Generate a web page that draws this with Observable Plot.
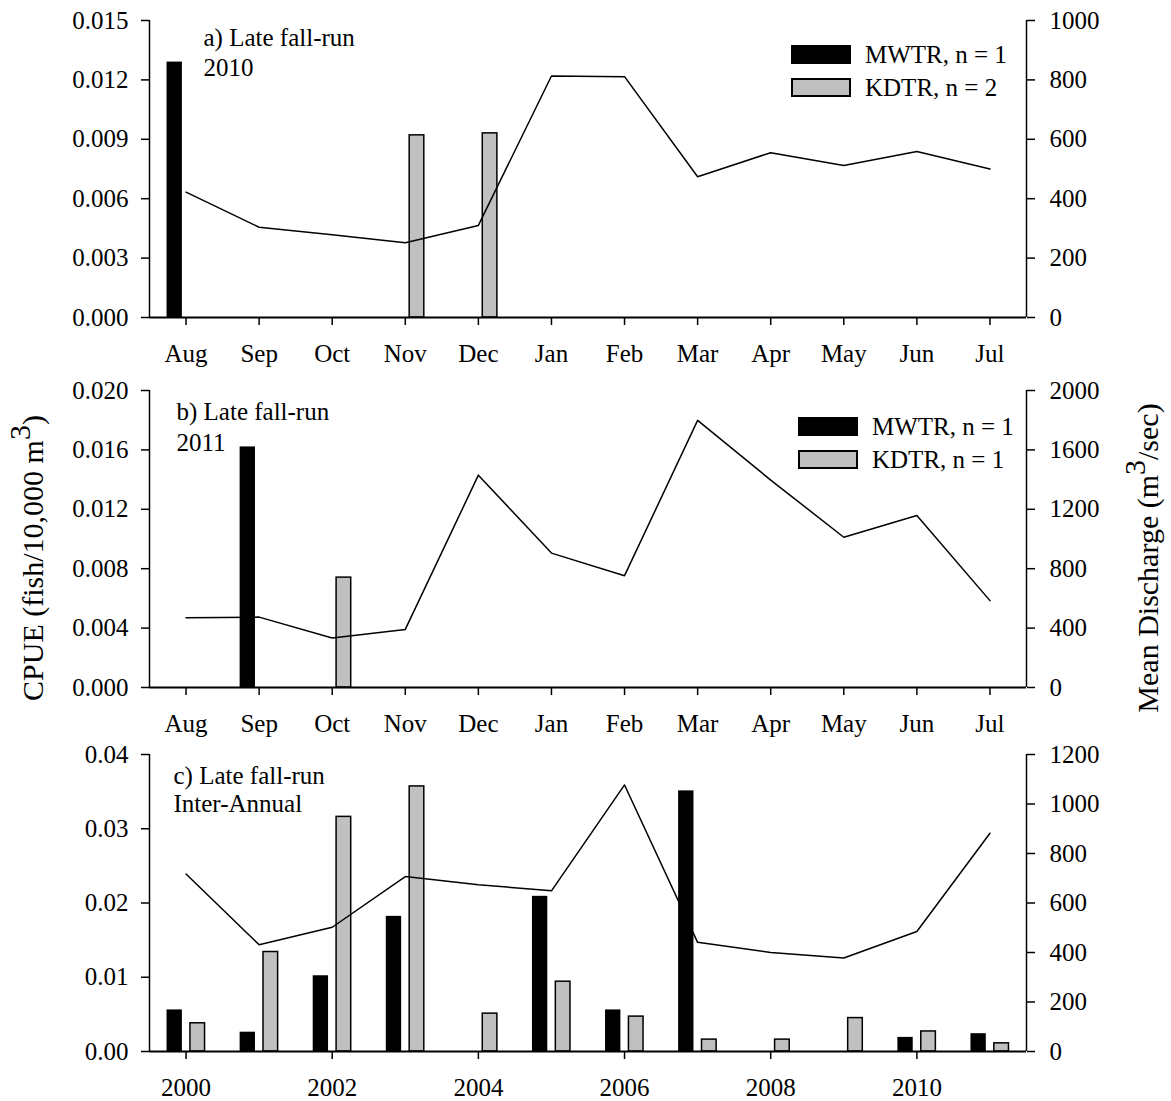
<!DOCTYPE html>
<html>
<head>
<meta charset="utf-8">
<script src="https://cdn.jsdelivr.net/npm/d3@7"></script>
<script src="https://cdn.jsdelivr.net/npm/@observablehq/plot@0.6"></script>
<style>
html, body { margin: 0; padding: 0; background: #fff; }
#chart { position: relative; width: 1171px; height: 1101px; background: #fff; overflow: hidden;
  font-family: "Liberation Serif", "Times New Roman", serif; }
#chart > svg, #chart > div { position: absolute; }
.lg-swatches { font-family: "Liberation Serif", "Times New Roman", serif !important; font-size: 25px !important;
  line-height: 33px !important; color: #000 !important; margin: 0 !important; columns: auto !important; }
.lg-swatch { display: flex !important; align-items: center !important; padding: 0 !important; margin: 0 !important; height: 33px; }
.lg-swatch > svg { margin-right: 15px !important; overflow: visible !important; }
.lg-swatch > svg rect { stroke: #000; stroke-width: 2px; }
.lg-swatch-label { overflow: visible !important; }
</style>
</head>
<body>
<div id="chart"></div>
<script>
// ---------- data ----------
const months = ["Aug","Sep","Oct","Nov","Dec","Jan","Feb","Mar","Apr","May","Jun","Jul"];
const monthIdx = [0,1,2,3,4,5,6,7,8,9,10,11];

// a) Late fall-run 2010
const aMWTR = [0.0129, null, null, null, null, null, null, null, null, null, null, null];
const aKDTR = [null, null, null, 0.0092, 0.0093, null, null, null, null, null, null, null];
const aDischarge = [422, 304, 279, 252, 310, 813, 811, 474, 555, 512, 559, 500];
const aLegend = ["MWTR, n = 1", "KDTR, n = 2"];

// b) Late fall-run 2011
const bMWTR = [null, 0.0162, null, null, null, null, null, null, null, null, null, null];
const bKDTR = [null, null, 0.0074, null, null, null, null, null, null, null, null, null];
const bDischarge = [469, 474, 333, 391, 1430, 905, 753, 1799, 1397, 1012, 1158, 585];
const bLegend = ["MWTR, n = 1", "KDTR, n = 1"];

// c) Late fall-run Inter-Annual
const years = [2000,2001,2002,2003,2004,2005,2006,2007,2008,2009,2010,2011];
const yearTicks = [2000,2002,2004,2006,2008,2010];
const cMWTR = [0.0056, 0.0026, 0.0102, 0.0182, null, 0.0209, 0.0056, 0.0351, null, null, 0.0019, 0.0024];
const cKDTR = [0.0038, 0.0134, 0.0316, 0.0357, 0.0051, 0.0094, 0.0047, 0.0016, 0.0016, 0.0045, 0.0027, 0.0011];
const cDischarge = [717, 431, 502, 707, 674, 649, 1077, 441, 400, 378, 485, 882];

const aCpueTicks = [0, 0.003, 0.006, 0.009, 0.012, 0.015];
const aQTicks = [0, 200, 400, 600, 800, 1000];
const bCpueTicks = [0, 0.004, 0.008, 0.012, 0.016, 0.020];
const bQTicks = [0, 400, 800, 1200, 1600, 2000];
const cCpueTicks = [0, 0.01, 0.02, 0.03, 0.04];
const cQTicks = [0, 200, 400, 600, 800, 1000, 1200];

// ---------- drawing ----------
const FONT = "'Liberation Serif', 'Times New Roman', serif";
const chart = document.getElementById("chart");

function panel(o) {
  const k = o.yMax / o.qMax;
  const rows = o.xs.map((x, i) => ({x, m: o.mwtr[i], kd: o.kdtr[i], q: o.q[i]}));
  const xDomain = [o.xs[0] - 0.5, o.xs[o.xs.length - 1] + 0.5];
  const svg = Plot.plot({
    width: 1171, height: 367,
    marginTop: 20, marginBottom: 50, marginLeft: 149, marginRight: 145,
    style: {fontFamily: FONT, fontSize: "25px", color: "black", background: "transparent", overflow: "visible"},
    x: {type: "linear", domain: xDomain},
    y: {type: "linear", domain: [0, o.yMax]},
    marks: [
      Plot.rect(rows.filter(d => d.m != null), {x1: d => d.x - 0.26, x2: d => d.x - 0.05, y1: () => 0, y2: "m", fill: "black"}),
      Plot.rect(rows.filter(d => d.kd != null), {x1: d => d.x + 0.06, x2: d => d.x + 0.26, y1: () => 0, y2: "kd",
        fill: "#c0c0c0", stroke: "black", strokeWidth: 1.5}),
      Plot.line(rows, {x: "x", y: d => d.q * k, stroke: "black", strokeWidth: 1.5}),
      Plot.ruleX(xDomain, {stroke: "black", strokeWidth: 1.5}),
      Plot.ruleY([0], {stroke: "black", strokeWidth: 2}),
      Plot.axisY(o.yTicks, {anchor: "left", tickSize: 8, tickPadding: 13, tickFormat: o.yFormat, label: null, strokeWidth: 1.5}),
      Plot.axisY(o.qTicks.map(v => v * k), {anchor: "right", tickSize: 8, tickPadding: 15,
        tickFormat: v => String(Math.round(v / k)), label: null, strokeWidth: 1.5}),
      Plot.axisX(o.xTicks, {anchor: "bottom", tickSize: 8, tickPadding: 19, tickFormat: o.xFormat, label: null, strokeWidth: 1.5}),
      Plot.text([o.note], {text: d => d, frameAnchor: "top-left", textAnchor: "start", lineAnchor: "top",
        dx: o.noteDx, dy: o.noteDy, lineHeight: o.noteLH, fill: "black"})
    ]
  });
  svg.style.left = "0px";
  svg.style.top = o.top + "px";
  chart.appendChild(svg);

  if (o.legend) {
    const lg = Plot.legend({
      legend: "swatches",
      color: {type: "ordinal", domain: o.legend, range: ["#000000", "#c0c0c0"]},
      columns: 1, swatchWidth: 58, swatchHeight: 17, className: "lg"
    });
    lg.style.position = "absolute";
    lg.style.left = o.legendLeft + "px";
    lg.style.top = o.legendTop + "px";
    chart.appendChild(lg);
  }
}

panel({top: 0, xs: monthIdx, xTicks: monthIdx, xFormat: i => months[i],
  mwtr: aMWTR, kdtr: aKDTR, q: aDischarge, yMax: 0.015, qMax: 1000,
  yTicks: aCpueTicks, yFormat: d3.format(".3f"), qTicks: aQTicks,
  note: "a) Late fall-run\n2010", noteDx: 54, noteDy: 4, noteLH: 1.2,
  legend: aLegend, legendLeft: 792, legendTop: 38});

panel({top: 370, xs: monthIdx, xTicks: monthIdx, xFormat: i => months[i],
  mwtr: bMWTR, kdtr: bKDTR, q: bDischarge, yMax: 0.020, qMax: 2000,
  yTicks: bCpueTicks, yFormat: d3.format(".3f"), qTicks: bQTicks,
  note: "b) Late fall-run\n2011", noteDx: 27, noteDy: 7, noteLH: 1.24,
  legend: bLegend, legendLeft: 799, legendTop: 410});

panel({top: 734, xs: years, xTicks: yearTicks, xFormat: d => String(d),
  mwtr: cMWTR, kdtr: cKDTR, q: cDischarge, yMax: 0.04, qMax: 1200,
  yTicks: cCpueTicks, yFormat: d3.format(".2f"), qTicks: cQTicks,
  note: "c) Late fall-run\nInter-Annual", noteDx: 24, noteDy: 10, noteLH: 1.12});

// axis titles
const ov = d3.create("svg").attr("width", 1171).attr("height", 1101)
  .style("left", "0px").style("top", "0px").style("pointer-events", "none")
  .style("font-family", FONT).style("font-size", "30px");
const t1 = ov.append("text").attr("transform", "translate(43,558) rotate(-90)").attr("text-anchor", "middle").attr("fill", "black");
t1.append("tspan").text("CPUE (fish/10,000 m");
t1.append("tspan").attr("dy", "-0.42em").text("3");
t1.append("tspan").attr("dy", "0.42em").text(")");
const t2 = ov.append("text").attr("transform", "translate(1158,558) rotate(-90)").attr("text-anchor", "middle").attr("fill", "black");
t2.append("tspan").text("Mean Discharge (m");
t2.append("tspan").attr("dy", "-0.42em").text("3");
t2.append("tspan").attr("dy", "0.42em").text("/sec)");
chart.appendChild(ov.node());
</script>
</body>
</html>
